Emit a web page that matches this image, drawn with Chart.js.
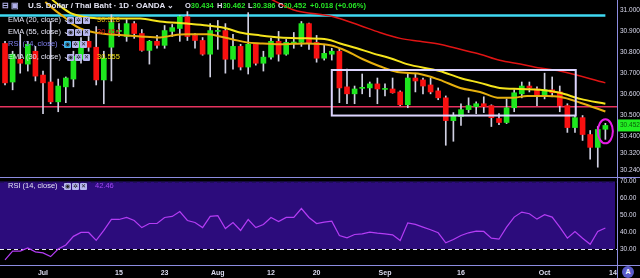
<!DOCTYPE html>
<html>
<head>
<meta charset="utf-8">
<script src="https://cdn.jsdelivr.net/npm/chart.js@4.4.1/dist/chart.umd.min.js"></script>
<style>
  html, body { margin: 0; padding: 0; background: #000; }
  body { width: 640px; height: 278px; position: relative; overflow: hidden;
         font-family: 'Liberation Sans', Arial, sans-serif; color: #e2e2f2; }
  canvas { position: absolute; left: 0; }
  #priceCanvas { top: 0; }
  #rsiCanvas { top: 177px; }
  .t { position: absolute; white-space: nowrap; font-size: 7.5px; line-height: 10px; }
  .b { font-weight: bold; }
  .g { color: #26e626; }
  .ico { display: inline-block; width: 7px; height: 7px; margin-right: 1px; background: #b6b6ee;
         color: #222; font-size: 6px; line-height: 7px; text-align: center; vertical-align: middle; border-radius: 1px; }
  .ico.on { background: #3fb6f0; }
  #badge { position: absolute; left: 622px; top: 266px; width: 12px; height: 12px; border-radius: 6px;
           background: #5a5ac8; color: #fff; font-size: 7px; line-height: 12px; text-align: center; font-weight: bold; }
</style>
</head>
<body>
<canvas id="priceCanvas" width="640" height="177"></canvas>
<canvas id="rsiCanvas" width="640" height="101"></canvas>

<div class="t b" style="left:2px;top:1px;font-size:8px;color:#b0b0e8">⊟ ▣</div>
<div class="t b" style="left:28px;top:1px;font-size:8px">U.S. Dollar / Thai Baht · 1D · OANDA ⌄</div>
<div class="t b" style="left:185px;top:1px">O<span class="g">30.434</span></div>
<div class="t b" style="left:217px;top:1px">H<span class="g">30.462</span></div>
<div class="t b" style="left:248px;top:1px">L<span class="g">30.386</span></div>
<div class="t b" style="left:278px;top:1px">C<span class="g">30.452</span></div>
<div class="t b g" style="left:310px;top:1px">+0.018 (+0.06%)</div>

<div class="t" style="left:8px;top:15px">EMA (20, close) ⌄</div>
<div class="t" style="left:67px;top:15px"><span class="ico">◉</span><span class="ico">✲</span><span class="ico">✕</span></div>
<div class="t" style="left:97px;top:15px;color:#e8b812">30.518</div>

<div class="t" style="left:8px;top:27px">EMA (55, close) ⌄</div>
<div class="t" style="left:67px;top:27px"><span class="ico">◉</span><span class="ico">✲</span><span class="ico">✕</span></div>
<div class="t" style="left:97px;top:27px;color:#e81818">30.654</div>

<div class="t" style="left:8px;top:39px;color:#8080f0">RSI (14, close) ⌄</div>
<div class="t" style="left:64px;top:39px"><span class="ico on">◉</span><span class="ico">✲</span><span class="ico">✕</span></div>

<div class="t" style="left:8px;top:52px">EMA (30, close) ⌄</div>
<div class="t" style="left:67px;top:52px"><span class="ico">◉</span><span class="ico">✲</span><span class="ico">✕</span></div>
<div class="t" style="left:97px;top:52px;color:#f2e21a">30.555</div>

<div class="t" style="left:8px;top:181px">RSI (14, close) ⌄</div>
<div class="t" style="left:64px;top:181px"><span class="ico">◉</span><span class="ico">✲</span><span class="ico">✕</span></div>
<div class="t" style="left:95px;top:181px;color:#a448f5">42.46</div>

<div id="badge">A</div>

<script>
// daily candles, index 0 = Jun 24
const opens = [
    30.841, 30.658, 30.766, 30.743, 30.804, 30.691, 30.658, 30.564, 30.635, 30.672,
    30.766, 30.851, 30.823, 30.668, 30.823, 30.898, 30.874, 30.935, 30.888, 30.808,
    30.851, 30.832, 30.898, 30.912, 30.968, 30.879, 30.855, 30.790, 30.898, 30.902,
    30.766, 30.827, 30.729, 30.837, 30.747, 30.776, 30.851, 30.790, 30.843, 30.846,
    30.935, 30.846, 30.771, 30.790, 30.804, 30.635, 30.602, 30.628, 30.630, 30.649,
    30.623, 30.625, 30.611, 30.550, 30.677, 30.668, 30.644, 30.616, 30.583, 30.475,
    30.494, 30.527, 30.541, 30.555, 30.546, 30.485, 30.466, 30.536, 30.602, 30.639,
    30.625, 30.592, 30.621, 30.611, 30.546, 30.442, 30.489, 30.409, 30.348, 30.434
];
const highs = [
    30.851, 30.804, 30.884, 30.851, 30.827, 30.710, 30.945, 30.672, 30.682, 30.804,
    30.869, 30.874, 30.921, 30.804, 30.977, 30.935, 30.954, 30.945, 30.907, 30.855,
    30.879, 30.926, 30.931, 30.973, 30.992, 30.888, 30.869, 30.935, 30.950, 30.935,
    30.884, 30.837, 30.987, 30.841, 30.804, 30.865, 30.898, 30.860, 30.893, 30.945,
    30.938, 30.879, 30.837, 30.818, 30.818, 30.719, 30.639, 30.696, 30.658, 30.677,
    30.649, 30.677, 30.616, 30.700, 30.700, 30.677, 30.677, 30.630, 30.592, 30.513,
    30.555, 30.583, 30.564, 30.588, 30.550, 30.508, 30.578, 30.621, 30.658, 30.658,
    30.635, 30.700, 30.682, 30.639, 30.555, 30.499, 30.499, 30.428, 30.447, 30.462
];
const lows = [
    30.644, 30.621, 30.700, 30.710, 30.663, 30.508, 30.555, 30.517, 30.560, 30.635,
    30.747, 30.804, 30.644, 30.555, 30.663, 30.874, 30.851, 30.865, 30.804, 30.743,
    30.818, 30.818, 30.874, 30.851, 30.855, 30.818, 30.785, 30.682, 30.813, 30.700,
    30.719, 30.715, 30.696, 30.738, 30.710, 30.766, 30.757, 30.785, 30.818, 30.827,
    30.813, 30.752, 30.762, 30.762, 30.560, 30.555, 30.555, 30.602, 30.588, 30.555,
    30.592, 30.605, 30.546, 30.536, 30.611, 30.602, 30.602, 30.574, 30.358, 30.377,
    30.452, 30.513, 30.508, 30.513, 30.447, 30.456, 30.461, 30.517, 30.583, 30.611,
    30.546, 30.578, 30.588, 30.517, 30.419, 30.419, 30.381, 30.292, 30.254, 30.386
];
const closes = [
    30.654, 30.790, 30.747, 30.837, 30.686, 30.654, 30.564, 30.639, 30.677, 30.780,
    30.851, 30.823, 30.668, 30.771, 30.940, 30.902, 30.935, 30.888, 30.808, 30.851,
    30.832, 30.902, 30.916, 30.968, 30.874, 30.855, 30.790, 30.902, 30.902, 30.766,
    30.827, 30.729, 30.837, 30.747, 30.776, 30.851, 30.790, 30.846, 30.846, 30.935,
    30.841, 30.771, 30.794, 30.804, 30.630, 30.602, 30.625, 30.630, 30.649, 30.625,
    30.625, 30.607, 30.550, 30.677, 30.663, 30.639, 30.611, 30.583, 30.475, 30.499,
    30.527, 30.546, 30.555, 30.541, 30.489, 30.466, 30.536, 30.607, 30.639, 30.630,
    30.592, 30.621, 30.607, 30.546, 30.442, 30.489, 30.409, 30.348, 30.433, 30.452
];

// moving averages as [bar index, price]
const ema30 = [
    [6.2, 31.048], [7.2, 31.020], [8.8, 30.982], [11.2, 30.963], [13.8, 30.959], [17.8, 30.959],
    [20.4, 30.945], [23.9, 30.935], [26.6, 30.926], [29.2, 30.912], [30.9, 30.893], [33.6, 30.879],
    [36.2, 30.869], [39.7, 30.865], [42.4, 30.860], [44.1, 30.841], [46.3, 30.818], [48.4, 30.794],
    [50.7, 30.771], [52.9, 30.743], [57.2, 30.710], [59.9, 30.677], [62.5, 30.654], [65.1, 30.630],
    [67.8, 30.625], [70.4, 30.621], [73, 30.607], [75.7, 30.578], [79, 30.555]
];
const ema20 = [
    [5.3, 31.038], [6.8, 30.992], [7.9, 30.963], [8.8, 30.935], [9.9, 30.912], [11.8, 30.893],
    [13.8, 30.884], [17.8, 30.874], [20.4, 30.869], [22.1, 30.879], [23.9, 30.884], [26.6, 30.884],
    [28.3, 30.874], [30, 30.860], [31.8, 30.846], [33.6, 30.841], [36.2, 30.837], [39.7, 30.841],
    [42.8, 30.832], [45, 30.804], [47.1, 30.766], [49.3, 30.733], [51.6, 30.705], [54.6, 30.696],
    [57.2, 30.668], [59.9, 30.630], [62.5, 30.611], [65.1, 30.583], [66.8, 30.583], [68.7, 30.592],
    [71.3, 30.592], [73, 30.588], [75.7, 30.560], [79, 30.518]
];
const ema55 = [
    [34.9, 31.053], [37.9, 31.001], [43.2, 30.968], [46.7, 30.926], [49.3, 30.893], [52, 30.865],
    [54.6, 30.851], [57.2, 30.837], [59.9, 30.813], [62.5, 30.790], [65.1, 30.761], [67.8, 30.743],
    [70.4, 30.724], [73, 30.710], [79, 30.654]
];

const rsi = [
    23.5, 28.8, 28.8, 30.6, 28.3, 27.7, 25.5, 30.0, 32.4, 37.5,
    39.8, 39.8, 35.1, 41.0, 47.5, 47.5, 48.7, 46.9, 42.7, 45.1,
    45.1, 48.7, 49.3, 52.2, 46.9, 45.7, 42.7, 49.3, 49.8, 42.1,
    45.7, 41.0, 47.5, 42.7, 44.5, 48.7, 46.3, 48.7, 48.7, 54.0,
    48.7, 45.1, 45.9, 46.5, 38.0, 36.6, 38.6, 39.0, 40.0, 39.4,
    39.0, 38.4, 35.0, 45.5, 44.6, 43.0, 41.4, 39.6, 33.7, 35.6,
    38.0, 39.6, 40.6, 40.4, 36.4, 35.8, 43.0, 48.9, 51.9, 50.9,
    47.7, 50.3, 48.9, 43.0, 36.4, 40.4, 36.4, 32.8, 40.4, 42.46
];

const priceTicks = [31.0, 30.9, 30.8, 30.7, 30.6, 30.5, 30.4, 30.32, 30.24];
const priceTickLabels = ['31.000', '30.900', '30.800', '30.700', '30.600', '30.500', '30.400', '30.320', '30.240'];
const rsiTicks = [70, 60, 50, 40, 30];
const rsiTickLabels = ['70.00', '60.00', '50.00', '40.00', '30.00'];
const timeTicks = [5, 15, 21, 28, 35, 41, 50, 60, 71, 80];
const timeLabels = ['Jul', '15', '23', 'Aug', '12', '20', 'Sep', '16', 'Oct', '14'];

// drawings on the chart
const resistanceLevel = 30.973;
const supportLevel = 30.541;
const rangeBox = { from: 43, to: 75.1, top: 30.715, bottom: 30.499 };
const lastPrice = 30.452;

const X_MIN = -0.66, X_MAX = 80.53;
const GREEN = '#1ee61e', RED = '#f81010';
const AXIS = '#8c8ce0', LABEL = '#dcdcf0';
const lastIdx = closes.length - 1;

const fixAxis = (w) => (s) => {
    if (w) s.width = w;
    s.paddingTop = 0; s.paddingBottom = 0; s.paddingLeft = 0; s.paddingRight = 0;
};

const priceOverlay = {
    id: 'priceOverlay',
    beforeDatasetsDraw(chart) {
        const { ctx, chartArea, scales: { x, y } } = chart;
        ctx.save();
        let py = y.getPixelForValue(supportLevel);
        ctx.strokeStyle = '#e6335f';
        ctx.lineWidth = 1.5;
        ctx.beginPath(); ctx.moveTo(chartArea.left, py); ctx.lineTo(chartArea.right, py); ctx.stroke();
        py = y.getPixelForValue(resistanceLevel);
        ctx.strokeStyle = '#3fd9f2';
        ctx.lineWidth = 2.5;
        ctx.beginPath(); ctx.moveTo(chartArea.left, py); ctx.lineTo(x.getPixelForValue(lastIdx), py); ctx.stroke();
        ctx.restore();
    },
    afterDatasetsDraw(chart) {
        const { ctx, scales: { x, y } } = chart;
        ctx.save();
        const x0 = x.getPixelForValue(rangeBox.from), x1 = x.getPixelForValue(rangeBox.to);
        const y0 = y.getPixelForValue(rangeBox.top), y1 = y.getPixelForValue(rangeBox.bottom);
        ctx.strokeStyle = '#ddd5ff';
        ctx.lineWidth = 2;
        ctx.strokeRect(x0, y0, x1 - x0, y1 - y0);
        // circle round the last candle
        const cx = x.getPixelForValue(lastIdx);
        const cy = y.getPixelForValue((highs[lastIdx] + lows[lastIdx]) / 2);
        const ry = (y.getPixelForValue(lows[lastIdx]) - y.getPixelForValue(highs[lastIdx])) / 2 + 4;
        ctx.strokeStyle = '#e61ee6';
        ctx.beginPath(); ctx.ellipse(cx, cy, 7.5, ry, 0, 0, Math.PI * 2); ctx.stroke();
        ctx.restore();
    },
    afterDraw(chart) {
        const { ctx, chartArea, scales: { y } } = chart;
        ctx.save();
        ctx.strokeStyle = AXIS;
        ctx.lineWidth = 1;
        ctx.beginPath(); ctx.moveTo(chartArea.right + 0.5, 0); ctx.lineTo(chartArea.right + 0.5, chart.height); ctx.stroke();
        const py = y.getPixelForValue(lastPrice);
        ctx.fillStyle = '#22ee22';
        ctx.fillRect(chartArea.right + 1, py - 6, chart.width - chartArea.right, 12);
        ctx.fillStyle = '#0b5d0b';
        ctx.font = '6.5px "Liberation Sans"';
        ctx.textBaseline = 'middle';
        ctx.fillText(lastPrice.toFixed(3), chartArea.right + 3, py);
        ctx.restore();
    }
};

new Chart(document.getElementById('priceCanvas'), {
    type: 'line',
    data: {
        datasets: [
            {
                type: 'bar', order: 3, grouped: false, barThickness: 1,
                data: highs.map((h, i) => ({ x: i, y: [lows[i], h] })),
                backgroundColor: '#d0d0e2'
            },
            {
                type: 'bar', order: 2, grouped: false, barThickness: 5, minBarLength: 1,
                data: opens.map((o, i) => ({ x: i, y: [o, closes[i]] })),
                backgroundColor: opens.map((o, i) => closes[i] >= o ? GREEN : RED)
            },
            {
                order: 1, data: ema55.map(([x, y]) => ({ x, y })),
                borderColor: '#e01414', borderWidth: 1.5, pointRadius: 0, cubicInterpolationMode: 'monotone'
            },
            {
                order: 1, data: ema20.map(([x, y]) => ({ x, y })),
                borderColor: '#e6b00e', borderWidth: 2, pointRadius: 0, cubicInterpolationMode: 'monotone'
            },
            {
                order: 1, data: ema30.map(([x, y]) => ({ x, y })),
                borderColor: '#f5e41c', borderWidth: 2, pointRadius: 0, cubicInterpolationMode: 'monotone'
            }
        ]
    },
    options: {
        responsive: false,
        animation: false,
        events: [],
        layout: { padding: 0 },
        plugins: { legend: { display: false }, tooltip: { enabled: false } },
        scales: {
            x: { type: 'linear', min: X_MIN, max: X_MAX, display: false, offset: false },
            y: {
                position: 'right', min: 30.2075, max: 31.047,
                grid: { display: false, drawTicks: false }, border: { display: false },
                afterFit: fixAxis(23),
                afterBuildTicks: s => { s.ticks = priceTicks.map(v => ({ value: v })); },
                ticks: {
                    autoSkip: false, padding: 3, color: LABEL,
                    font: { size: 6.5, family: 'Liberation Sans' },
                    callback: (v, i) => priceTickLabels[i]
                }
            }
        }
    },
    plugins: [priceOverlay]
});

const rsiOverlay = {
    id: 'rsiOverlay',
    beforeDatasetsDraw(chart) {
        const { ctx, chartArea, scales: { y } } = chart;
        const y70 = y.getPixelForValue(70), y30 = y.getPixelForValue(30);
        ctx.save();
        ctx.fillStyle = '#2c0c7c';
        ctx.fillRect(chartArea.left, y70, chartArea.right - chartArea.left - 2, y30 - y70);
        ctx.lineWidth = 1;
        ctx.setLineDash([4, 3]);
        ctx.strokeStyle = '#14103a';
        ctx.beginPath(); ctx.moveTo(chartArea.left, y70 + 0.5); ctx.lineTo(chartArea.right, y70 + 0.5); ctx.stroke();
        ctx.strokeStyle = '#e6e6f4';
        ctx.beginPath(); ctx.moveTo(chartArea.left, y30 + 0.5); ctx.lineTo(chartArea.right, y30 + 0.5); ctx.stroke();
        ctx.restore();
    },
    afterDraw(chart) {
        const { ctx, chartArea } = chart;
        ctx.save();
        ctx.strokeStyle = AXIS;
        ctx.lineWidth = 1;
        ctx.beginPath();
        ctx.moveTo(0, 0.5); ctx.lineTo(chart.width, 0.5);
        ctx.moveTo(0, chartArea.bottom + 0.5); ctx.lineTo(chart.width, chartArea.bottom + 0.5);
        ctx.moveTo(chartArea.right + 0.5, 0); ctx.lineTo(chartArea.right + 0.5, chart.height);
        ctx.stroke();
        ctx.restore();
    }
};

new Chart(document.getElementById('rsiCanvas'), {
    type: 'line',
    data: {
        datasets: [{
            data: rsi.map((v, i) => ({ x: i, y: v })),
            borderColor: '#b43cf5', borderWidth: 1.2, pointRadius: 0
        }]
    },
    options: {
        responsive: false,
        animation: false,
        events: [],
        layout: { padding: 0 },
        plugins: { legend: { display: false }, tooltip: { enabled: false } },
        scales: {
            x: {
                type: 'linear', min: X_MIN, max: X_MAX, offset: false,
                grid: { display: false, drawTicks: false }, border: { display: false },
                afterFit: s => { s.height = 13; s.paddingLeft = 0; s.paddingRight = 0; },
                afterBuildTicks: s => { s.ticks = timeTicks.map(v => ({ value: v })); },
                ticks: {
                    autoSkip: false, maxRotation: 0, padding: 4, color: LABEL,
                    font: { size: 7, weight: 'bold', family: 'Liberation Sans' },
                    callback: (v, i) => timeLabels[i]
                }
            },
            y: {
                position: 'right', min: 20.52, max: 72.67,
                grid: { display: false, drawTicks: false }, border: { display: false },
                afterFit: fixAxis(23),
                afterBuildTicks: s => { s.ticks = rsiTicks.map(v => ({ value: v })); },
                ticks: {
                    autoSkip: false, padding: 3, color: LABEL,
                    font: { size: 6.5, family: 'Liberation Sans' },
                    callback: (v, i) => rsiTickLabels[i]
                }
            }
        }
    },
    plugins: [rsiOverlay]
});
</script>
</body>
</html>
